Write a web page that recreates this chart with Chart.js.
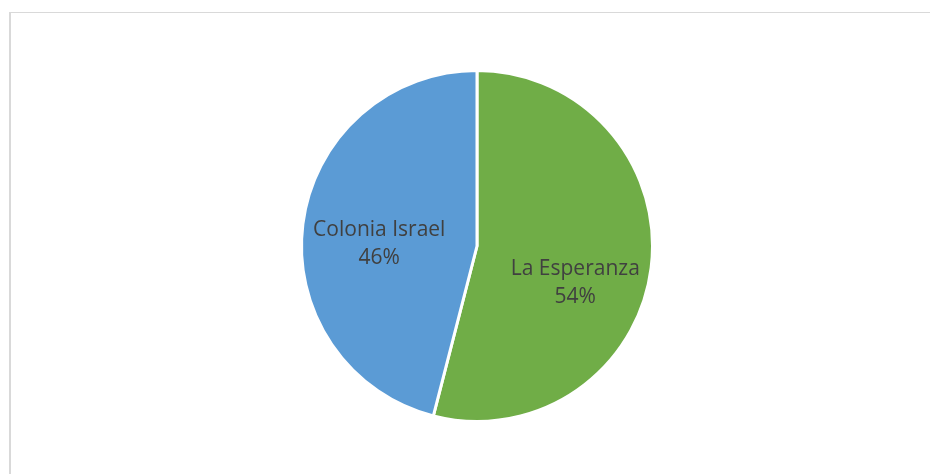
<!DOCTYPE html>
<html>
<head>
<meta charset="utf-8">
<script src="https://cdn.jsdelivr.net/npm/chart.js@4.4.0/dist/chart.umd.min.js"></script>
<style>
  html, body { margin: 0; padding: 0; background: #fff; }
  #wrap { position: relative; width: 930px; height: 474px; overflow: hidden; }
  #marco {
    position: absolute; left: 9px; top: 12px; width: 1000px; height: 600px;
    border-left: 2px solid #d9d9d9; border-top: 1px solid #d9d9d9;
  }
  canvas { position: absolute; left: 0; top: 0; }
</style>
</head>
<body>
<div id="wrap">
  <div id="marco"></div>
  <canvas id="grafico" width="930" height="474"></canvas>
</div>
<script>
const localidades = ["La Esperanza", "Colonia Israel"];
const porcentajes = [54, 46];
const colores = ["#70ad47", "#5b9bd5"];

// desplazamiento de cada etiqueta respecto al centro, en fracción del radio
const posEtiquetas = [
  { x: 0.56, y: 0.21 },
  { x: -0.557, y: -0.011 }
];

const etiquetasPastel = {
  id: "etiquetasPastel",
  afterDatasetsDraw(chart) {
    const ctx = chart.ctx;
    const arcos = chart.getDatasetMeta(0).data;
    ctx.save();
    ctx.font = "21px 'Open Sans', sans-serif";
    ctx.fillStyle = "#404040";
    ctx.textAlign = "center";
    ctx.textBaseline = "middle";
    arcos.forEach((arco, i) => {
      const r = arco.outerRadius;
      const cx = arco.x + posEtiquetas[i].x * r;
      const cy = arco.y + posEtiquetas[i].y * r;
      ctx.fillText(localidades[i], cx, cy - 14);
      ctx.fillText(porcentajes[i] + "%", cx, cy + 14);
    });
    ctx.restore();
  }
};

new Chart(document.getElementById("grafico"), {
  type: "pie",
  data: {
    labels: localidades,
    datasets: [{
      data: porcentajes,
      backgroundColor: colores,
      borderColor: "#ffffff",
      borderWidth: 3
    }]
  },
  options: {
    responsive: false,
    animation: false,
    layout: { padding: { left: 300, right: 276, top: 69, bottom: 51 } },
    plugins: {
      legend: { display: false },
      tooltip: { enabled: false }
    }
  },
  plugins: [etiquetasPastel]
});
</script>
</body>
</html>
